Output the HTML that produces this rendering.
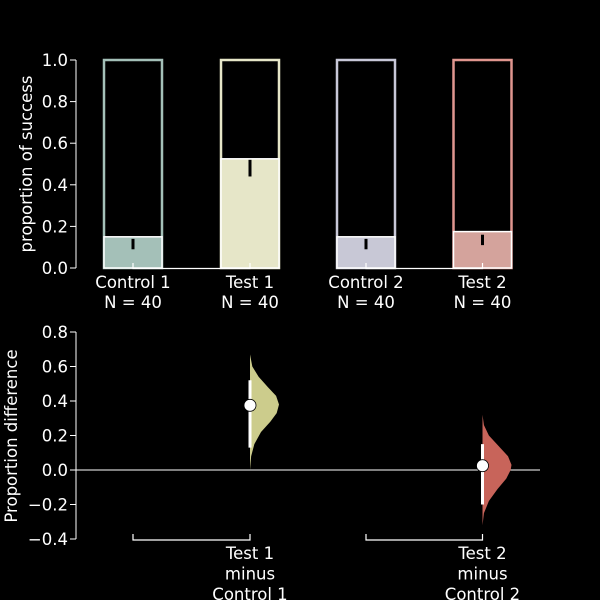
<!DOCTYPE html>
<html><head><meta charset="utf-8"><style>
html,body{margin:0;padding:0;background:#000;overflow:hidden;width:600px;height:600px;}
svg{display:block;}
svg text{font-family:"DejaVu Sans","Liberation Sans",sans-serif;fill:#fff;}
</style></head><body>
<svg id="c" width="600" height="600" viewBox="0 0 600 600" xmlns="http://www.w3.org/2000/svg">
<rect width="600" height="600" fill="#000"/>
</svg>
<script>
const groups=["Control 1","Test 1","Control 2","Test 2"];
const ns=[40,40,40,40];
const props=[0.15,0.525,0.15,0.175];
const errLo=[0.09,0.44,0.09,0.11];
const errHi=[0.14,0.52,0.14,0.16];
const fillColors=["#a4c0b8","#e6e6c8","#c8c8d6","#d4a39c"];
const edgeColors=["#a4c0b8","#e6e6c8","#c8c8d8","#e0968f"];
const topTicks=[0,0.2,0.4,0.6,0.8,1.0];
const diffLabels=[["Test 1","minus","Control 1"],["Test 2","minus","Control 2"]];
const diffMeans=[0.375,0.025];
const ciLo=[0.13,-0.2];
const ciHi=[0.52,0.15];
const diffColors=["#cccc8c","#c8645a"];
const violinVals1=[0.0,0.08,0.15,0.22,0.28,0.33,0.38,0.43,0.48,0.54,0.60,0.67];
const violinDens1=[0,0.04,0.15,0.38,0.70,0.92,1.0,0.90,0.62,0.30,0.08,0];
const violinVals2=[-0.32,-0.25,-0.18,-0.11,-0.05,0.0,0.03,0.08,0.14,0.20,0.26,0.32];
const violinDens2=[0,0.05,0.22,0.52,0.82,0.97,1.0,0.88,0.55,0.22,0.05,0];
const violinVals=[violinVals1,violinVals2];
const violinDens=[violinDens1,violinDens2];
const bottomTicks=[-0.4,-0.2,0.0,0.2,0.4,0.6,0.8];

const svg=document.getElementById('c');
const NS="http://www.w3.org/2000/svg";
const FS=16.5;
function mk(t,a,p){const e=document.createElementNS(NS,t);for(const k in a)e.setAttribute(k,a[k]);(p||svg).appendChild(e);return e;}
const xPos=i=>[133,250,366,482.5][i];
const yTop=v=>268-v*208;
const yBot=v=>470-v*172.5;
const fmt=v=>(v<0?"\u2212":"")+Math.abs(v).toFixed(1);

let e=mk('line',{x1:76,y1:yTop(0),x2:76,y2:yTop(1),stroke:'#fff','stroke-width':1});


topTicks.forEach(v=>{
  let t=mk('line',{x1:70,x2:76,y1:yTop(v),y2:yTop(v),stroke:'#fff'});
  
  
  let l=mk('text',{x:68,y:yTop(v)+6,'text-anchor':'end','font-size':FS});
  l.textContent=v.toFixed(1);
  
  
});
e=mk('text',{x:0,y:0,'font-size':FS,'text-anchor':'middle',transform:'translate(32,164) rotate(-90)'});
e.textContent='proportion of success';



groups.forEach((g,i)=>{
  const cx=xPos(i),w=58;
  let o=mk('rect',{x:cx-w/2,y:yTop(1),width:w,height:yTop(0)-yTop(1),fill:'none',stroke:edgeColors[i],'stroke-width':2.5});
  
  
  let b=mk('rect',{x:cx-w/2,y:yTop(props[i]),width:w,height:yTop(0)-yTop(props[i]),fill:fillColors[i],stroke:'#fff','stroke-width':1.5});
  
  
  let er=mk('line',{x1:cx,x2:cx,y1:yTop(errLo[i]),y2:yTop(errHi[i]),stroke:'#000','stroke-width':3});
  
  
  let l1=mk('text',{x:cx,y:288,'text-anchor':'middle','font-size':FS});
  l1.textContent=g;
  
  
  let l2=mk('text',{x:cx,y:308,'text-anchor':'middle','font-size':FS});
  l2.textContent='N = '+ns[i];
  
  
});
[0,2].forEach(i=>{
  let p=mk('path',{d:`M${xPos(i)},263V268.5H${xPos(i+1)}V263`,fill:'none',stroke:'#fff','stroke-width':1.2});
  
  
});

e=mk('line',{x1:76,y1:yBot(-0.4),x2:76,y2:yBot(0.8),stroke:'#fff'});


bottomTicks.forEach(v=>{
  let t=mk('line',{x1:70,x2:76,y1:yBot(v),y2:yBot(v),stroke:'#fff'});
  
  
  let l=mk('text',{x:68,y:yBot(v)+6,'text-anchor':'end','font-size':FS});
  l.textContent=fmt(v);
  
  
});
e=mk('text',{x:0,y:0,'font-size':FS,'text-anchor':'middle',transform:'translate(17,436) rotate(-90)'});
e.textContent='Proportion difference';


e=mk('line',{x1:76,x2:540,y1:yBot(0),y2:yBot(0),stroke:'#fff','stroke-width':1});



[0,1].forEach(k=>{
  const cx=xPos(2*k+1);
  const vals=violinVals[k],dens=violinDens[k];
  let d=`M${cx},${yBot(vals[0])}`;
  vals.forEach((v,j)=>{d+=`L${cx+dens[j]*29},${yBot(v)}`;});
  d+=`L${cx},${yBot(vals[vals.length-1])}Z`;
  let p=mk('path',{d,fill:diffColors[k]});
  
  
  let ci=mk('line',{x1:cx,x2:cx,y1:yBot(ciLo[k]),y2:yBot(ciHi[k]),stroke:'#fff','stroke-width':3});
  
  
  let m=mk('circle',{cx,cy:yBot(diffMeans[k]),r:6,fill:'#fff',stroke:'#000','stroke-width':0.8});
  
  
  let br=mk('path',{d:`M${xPos(2*k)},534V540H${cx}V534`,fill:'none',stroke:'#fff','stroke-width':1.2});
  
  
  diffLabels[k].forEach((s,j)=>{
    let t=mk('text',{x:cx,y:559+j*20.5,'text-anchor':'middle','font-size':FS});
    t.textContent=s;
    
    
  });
});
</script>
</body></html>
